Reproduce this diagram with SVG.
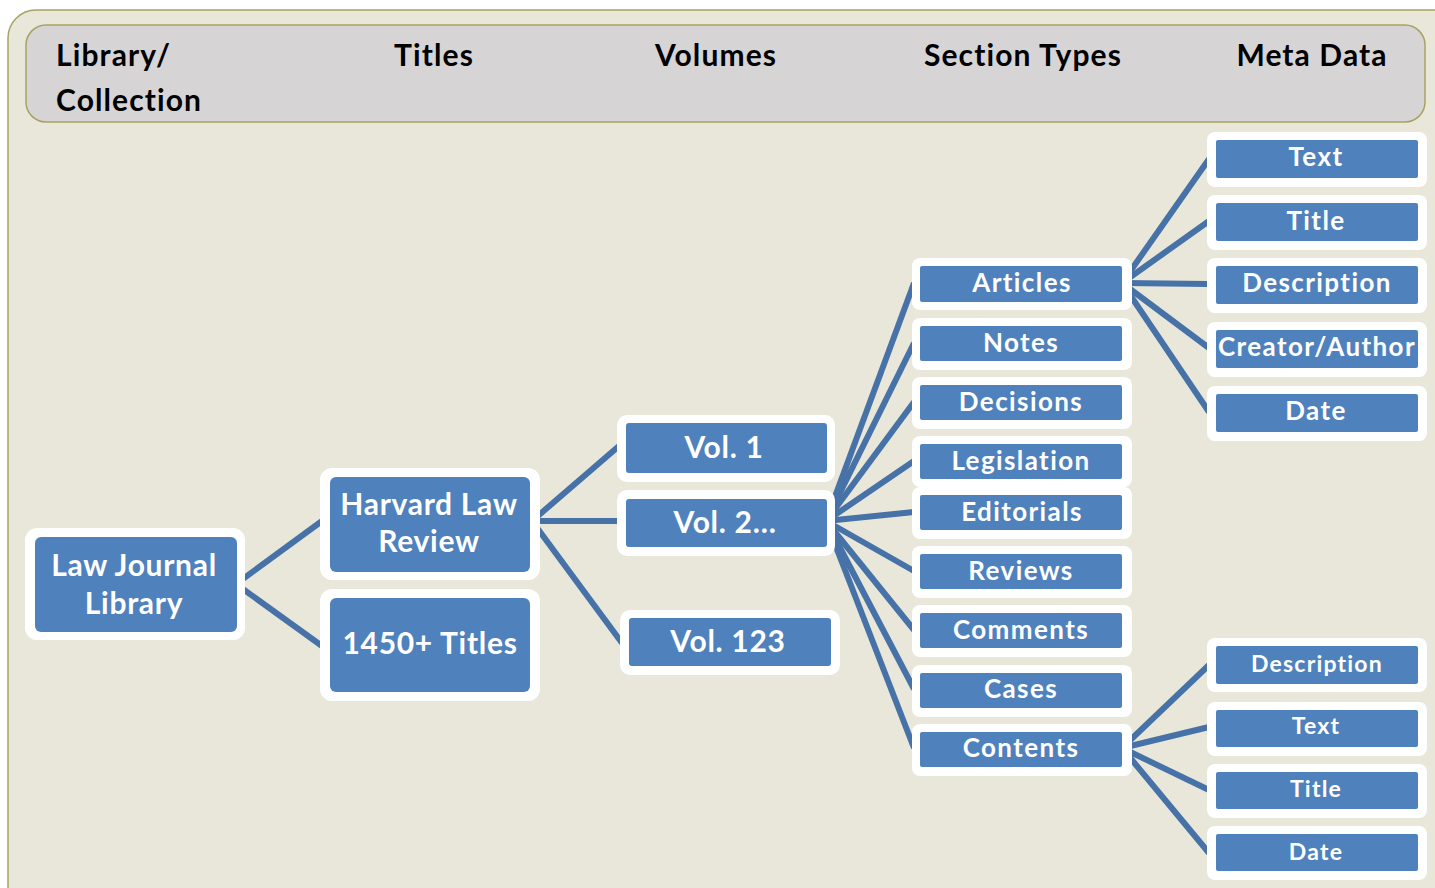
<svg xmlns="http://www.w3.org/2000/svg" width="1435" height="888" viewBox="0 0 1435 888">
<style>
.o{fill:#ffffff}
.i{fill:#4f81bd}
.t{font-family:Lato,"Liberation Sans",sans-serif;font-weight:bold;fill:#ffffff;text-anchor:middle}
.b{font-size:30px;letter-spacing:0.7px}
.s{font-size:26px;letter-spacing:1.4px}
.m{font-size:23px;letter-spacing:1.2px}
.h{font-family:Lato,"Liberation Sans",sans-serif;font-weight:bold;fill:#000000;font-size:30px;letter-spacing:1.1px}
.c line{stroke:#4672a8;stroke-width:6;stroke-linecap:butt}
</style>
<rect x="0" y="0" width="1435" height="888" fill="#ffffff"/>
<rect x="8" y="10" width="1460" height="910" rx="28" fill="#e9e7da" stroke="#a8a262" stroke-width="1.5"/>
<g id="header">
<rect x="26" y="25" width="1399" height="97" rx="20" fill="#d6d4d5" stroke="#a8a262" stroke-width="1.5"/>
<text class="h" x="56" y="66">Library/</text>
<text class="h" x="56" y="111">Collection</text>
<text class="h" x="434" y="66" text-anchor="middle">Titles</text>
<text class="h" x="716" y="66" text-anchor="middle">Volumes</text>
<text class="h" x="1023" y="66" text-anchor="middle">Section Types</text>
<text class="h" x="1312" y="66" text-anchor="middle">Meta Data</text>
</g>
<g id="connectors" class="c">
<line x1="236" y1="584" x2="322" y2="521"/>
<line x1="236" y1="584" x2="322" y2="646"/>
<line x1="532" y1="521" x2="619" y2="446"/>
<line x1="532" y1="521" x2="619" y2="521"/>
<line x1="532" y1="521" x2="622" y2="643"/>
<line x1="826" y1="521" x2="914" y2="283"/>
<line x1="826" y1="521" x2="914" y2="343"/>
<line x1="826" y1="521" x2="914" y2="402"/>
<line x1="826" y1="521" x2="914" y2="461"/>
<line x1="826" y1="521" x2="914" y2="512"/>
<line x1="826" y1="521" x2="914" y2="571"/>
<line x1="826" y1="521" x2="914" y2="630"/>
<line x1="826" y1="521" x2="914" y2="689"/>
<line x1="826" y1="521" x2="914" y2="748"/>
<line x1="1122" y1="283" x2="1209" y2="159"/>
<line x1="1122" y1="283" x2="1209" y2="221"/>
<line x1="1122" y1="283" x2="1209" y2="284"/>
<line x1="1122" y1="283" x2="1209" y2="348"/>
<line x1="1122" y1="283" x2="1209" y2="412"/>
<line x1="1122" y1="748" x2="1209" y2="665"/>
<line x1="1122" y1="748" x2="1209" y2="727"/>
<line x1="1122" y1="748" x2="1209" y2="790"/>
<line x1="1122" y1="748" x2="1209" y2="853"/>
</g>
<g id="law-journal-library">
<rect class="o" x="25" y="528" width="220" height="112" rx="12"/>
<rect class="i" x="35" y="537" width="202" height="95" rx="6"/>
<text class="t b" x="134" y="576">Law Journal</text>
<text class="t b" x="134" y="614">Library</text>
</g>
<g id="harvard-law-review">
<rect class="o" x="320" y="468" width="220" height="112" rx="12"/>
<rect class="i" x="330" y="477" width="200" height="95" rx="6"/>
<text class="t b" x="429" y="515">Harvard Law</text>
<text class="t b" x="429" y="552">Review</text>
</g>
<g id="titles-1450">
<rect class="o" x="320" y="589" width="220" height="112" rx="12"/>
<rect class="i" x="330" y="598" width="200" height="94" rx="6"/>
<text class="t b" x="430" y="654">1450+ Titles</text>
</g>
<g id="vol-1">
<rect class="o" x="617" y="415" width="218" height="67" rx="10"/>
<rect class="i" x="626" y="423" width="201" height="50" rx="3"/>
<text class="t b" x="724" y="458">Vol. 1</text>
</g>
<g id="vol-2">
<rect class="o" x="617" y="490" width="218" height="66" rx="10"/>
<rect class="i" x="626" y="499" width="201" height="48" rx="3"/>
<text class="t b" x="725" y="533">Vol. 2…</text>
</g>
<g id="vol-123">
<rect class="o" x="620" y="610" width="220" height="65" rx="10"/>
<rect class="i" x="629" y="618" width="202" height="48" rx="3"/>
<text class="t b" x="728" y="652">Vol. 123</text>
</g>
<g id="articles">
<rect class="o" x="912" y="258" width="220" height="52" rx="8"/>
<rect class="i" x="920" y="266" width="202" height="36" rx="2"/>
<text class="t s" x="1022" y="292">Articles</text>
</g>
<g id="notes">
<rect class="o" x="912" y="318" width="220" height="52" rx="8"/>
<rect class="i" x="920" y="326" width="202" height="35" rx="2"/>
<text class="t s" x="1021" y="352">Notes</text>
</g>
<g id="decisions">
<rect class="o" x="912" y="377" width="220" height="52" rx="8"/>
<rect class="i" x="920" y="385" width="202" height="35" rx="2"/>
<text class="t s" x="1021" y="411">Decisions</text>
</g>
<g id="legislation">
<rect class="o" x="912" y="436" width="220" height="51" rx="8"/>
<rect class="i" x="920" y="444" width="202" height="35" rx="2"/>
<text class="t s" x="1021" y="470">Legislation</text>
</g>
<g id="editorials">
<rect class="o" x="912" y="487" width="220" height="52" rx="8"/>
<rect class="i" x="920" y="495" width="202" height="35" rx="2"/>
<text class="t s" x="1022" y="521">Editorials</text>
</g>
<g id="reviews">
<rect class="o" x="912" y="546" width="220" height="52" rx="8"/>
<rect class="i" x="920" y="554" width="202" height="35" rx="2"/>
<text class="t s" x="1021" y="580">Reviews</text>
</g>
<g id="comments">
<rect class="o" x="912" y="605" width="220" height="52" rx="8"/>
<rect class="i" x="920" y="613" width="202" height="35" rx="2"/>
<text class="t s" x="1021" y="639">Comments</text>
</g>
<g id="cases">
<rect class="o" x="912" y="665" width="220" height="52" rx="8"/>
<rect class="i" x="920" y="673" width="202" height="35" rx="2"/>
<text class="t s" x="1021" y="698">Cases</text>
</g>
<g id="contents">
<rect class="o" x="912" y="724" width="220" height="52" rx="8"/>
<rect class="i" x="920" y="732" width="202" height="35" rx="2"/>
<text class="t s" x="1021" y="757">Contents</text>
</g>
<g id="meta-text-1">
<rect class="o" x="1207" y="132" width="220" height="55" rx="8"/>
<rect class="i" x="1216" y="140" width="202" height="38" rx="2"/>
<text class="t s" x="1316" y="166">Text</text>
</g>
<g id="meta-title-1">
<rect class="o" x="1207" y="195" width="220" height="55" rx="8"/>
<rect class="i" x="1216" y="203" width="202" height="38" rx="2"/>
<text class="t s" x="1316" y="230">Title</text>
</g>
<g id="meta-description-1">
<rect class="o" x="1207" y="258" width="220" height="55" rx="8"/>
<rect class="i" x="1216" y="266" width="202" height="38" rx="2"/>
<text class="t s" x="1317" y="292">Description</text>
</g>
<g id="meta-creator-1">
<rect class="o" x="1207" y="322" width="220" height="55" rx="8"/>
<rect class="i" x="1216" y="330" width="202" height="38" rx="2"/>
<text class="t s" x="1317" y="356">Creator/Author</text>
</g>
<g id="meta-date-1">
<rect class="o" x="1207" y="386" width="220" height="55" rx="8"/>
<rect class="i" x="1216" y="394" width="202" height="38" rx="2"/>
<text class="t s" x="1316" y="420">Date</text>
</g>
<g id="meta-description-2">
<rect class="o" x="1207" y="638" width="220" height="54" rx="8"/>
<rect class="i" x="1216" y="646" width="202" height="38" rx="2"/>
<text class="t m" x="1317" y="672">Description</text>
</g>
<g id="meta-text-2">
<rect class="o" x="1207" y="702" width="220" height="54" rx="8"/>
<rect class="i" x="1216" y="710" width="202" height="37" rx="2"/>
<text class="t m" x="1316" y="734">Text</text>
</g>
<g id="meta-title-2">
<rect class="o" x="1207" y="764" width="220" height="54" rx="8"/>
<rect class="i" x="1216" y="772" width="202" height="37" rx="2"/>
<text class="t m" x="1316" y="797">Title</text>
</g>
<g id="meta-date-2">
<rect class="o" x="1207" y="826" width="220" height="54" rx="8"/>
<rect class="i" x="1216" y="834" width="202" height="37" rx="2"/>
<text class="t m" x="1316" y="860">Date</text>
</g>
</svg>
